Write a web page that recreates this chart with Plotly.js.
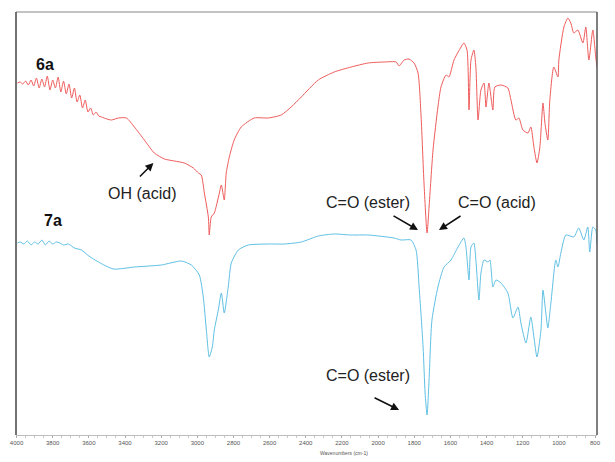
<!DOCTYPE html>
<html>
<head>
<meta charset="utf-8">
<script src="https://cdn.plot.ly/plotly-3.0.1.min.js"></script>
<style>html,body{margin:0;padding:0;background:#fff;}#chart{width:615px;height:462px;}</style>
</head>
<body>
<div id="chart"></div>
<script>
// Wavenumbers (cm-1) and relative transmittance (arbitrary units) for sample 6a
const wn6a = [3995,3980,3965,3950,3935,3920,3905,3890,3875,3860,3845,3830,3815,3800,3785,3770,3755,3740,3725,3710,3695,3680,3665,3650,3635,3620,3605,3590,3575,3560,3545,3530,3500,3475,3436,3392,3348,3293,3238,3182,3127,3072,3022,2994,2978,2961,2939,2934,2923,2906,2878,2867,2851,2840,2823,2796,2757,2685,2608,2536,2481,2425,2331,2243,2149,2055,1967,1900,1884,1856,1829,1801,1779,1762,1746,1729,1718,1696,1669,1652,1624,1608,1580,1541,1525,1508,1497,1486,1470,1459,1447,1431,1414,1403,1387,1365,1354,1320,1282,1265,1238,1221,1199,1171,1155,1138,1121,1105,1088,1077,1061,1050,1028,1005,1000,972,950,934,917,895,867,851,834,812,796,789];
const t6a = [352,353,351,354,350,355,349,357,347,356,348,359,345,355,347,358,343,354,341,351,337,347,333,340,327,335,323,327,320,323,319,318,316,315,317,317,308,295,282,276,274,272,267,262,260,242,218,200,218,222,242,250,235,262,278,295,308,317,317,320,328,338,355,363,368,372,373,373,369,375,376,372,362,318,252,202,228,285,328,348,360,358,375,388,392,385,325,375,385,368,315,345,352,328,352,325,348,350,347,335,315,317,305,302,308,288,272,288,332,312,295,335,368,358,375,408,417,412,402,405,392,408,375,405,378,368];

// Wavenumbers (cm-1) and relative transmittance (arbitrary units) for sample 7a
const wn7a = [3995,3980,3960,3940,3920,3900,3880,3860,3840,3820,3800,3780,3760,3740,3713,3680,3641,3600,3547,3464,3348,3199,3088,3033,2989,2967,2950,2934,2917,2906,2884,2867,2851,2829,2812,2773,2718,2608,2519,2425,2331,2243,2149,2055,1912,1873,1818,1790,1773,1751,1740,1729,1718,1702,1669,1635,1597,1558,1525,1514,1497,1486,1470,1459,1442,1431,1414,1392,1381,1365,1348,1320,1282,1254,1226,1210,1182,1155,1138,1121,1099,1088,1072,1061,1044,1017,1005,989,961,917,890,862,840,829,812,796,789];
const t7a = [192,193,191,194,190,193,191,195,190,194,191,193,192,190,191,187,185,179,173,166,168,170,174,170,160,138,105,78,88,105,125,142,122,148,172,185,190,191,191,193,199,201,200,200,197,195,195,185,148,88,42,20,55,115,148,168,175,188,197,188,155,188,192,175,135,162,175,173,175,148,155,152,142,117,128,112,92,118,98,78,105,145,122,107,132,175,168,182,200,198,207,195,208,183,208,205,190];

const sampleNames = ['6a', '7a'];
const xTicks = [4000,3800,3600,3400,3200,3000,2800,2600,2400,2200,2000,1800,1600,1400,1200,1000,800];

const traces = [
  {x: wn6a, y: t6a, type: 'scatter', mode: 'lines', name: sampleNames[0],
   line: {color: '#ef5b5b', width: 1, shape: 'spline', smoothing: 0.6}},
  {x: wn7a, y: t7a, type: 'scatter', mode: 'lines', name: sampleNames[1],
   line: {color: '#5fc0e4', width: 1, shape: 'spline', smoothing: 0.6}}
];

const txtFont = {family: 'Arial, "Liberation Sans", sans-serif', size: 16, color: '#222'};
const boldFont = {family: 'Arial, "Liberation Sans", sans-serif', size: 16, color: '#111', weight: 'bold'};

const layout = {
  width: 615, height: 462,
  margin: {l: 16, r: 18, t: 12, b: 27},
  paper_bgcolor: '#fff', plot_bgcolor: '#fff',
  showlegend: false,
  xaxis: {
    range: [4003, 789], autorange: false,
    tickvals: xTicks, ticktext: xTicks.map(String),
    showgrid: false, zeroline: false,
    showline: true, linecolor: '#bdbdbd', linewidth: 1,
    ticks: 'outside', ticklen: 2, tickcolor: '#aaa',
    minor: {dtick: 50, ticks: 'outside', ticklen: 2, tickcolor: '#c8c8c8'},
    tickfont: {family: 'Arial, "Liberation Sans", sans-serif', size: 6, color: '#555'}
  },
  yaxis: {
    range: [0, 423], autorange: false,
    showgrid: false, zeroline: false, showticklabels: false, ticks: ''
  },
  shapes: [
    {type: 'line', xref: 'paper', yref: 'paper', x0: 0, x1: 1, y0: 1, y1: 1, line: {color: '#888', width: 1}},
    {type: 'line', xref: 'paper', yref: 'paper', x0: 0, x1: 0, y0: 0, y1: 1, line: {color: '#444', width: 1.5}},
    {type: 'line', xref: 'paper', yref: 'paper', x0: 1, x1: 1, y0: 0, y1: 1, line: {color: '#555', width: 1.5}}
  ],
  annotations: [
    {x: 3840, y: 371, xref: 'x', yref: 'y', text: '<b>' + sampleNames[0] + '</b>', showarrow: false, font: boldFont},
    {x: 3801, y: 215, xref: 'x', yref: 'y', text: '<b>' + sampleNames[1] + '</b>', showarrow: false, font: boldFont},
    {x: 3304, y: 242, xref: 'x', yref: 'y', text: 'OH (acid)', showarrow: false, font: txtFont},
    {x: 3243, y: 272, xref: 'x', yref: 'y', ax: -15, ay: 15, text: '', showarrow: true,
     arrowhead: 2, arrowsize: 1, arrowwidth: 1.6, arrowcolor: '#111'},
    {x: 2055, y: 233, xref: 'x', yref: 'y', text: 'C=O (ester)', showarrow: false, font: txtFont},
    {x: 1779, y: 205, xref: 'x', yref: 'y', ax: -26, ay: -15, text: '', showarrow: true,
     arrowhead: 2, arrowsize: 1, arrowwidth: 1.6, arrowcolor: '#111'},
    {x: 1342, y: 233, xref: 'x', yref: 'y', text: 'C=O (acid)', showarrow: false, font: txtFont},
    {x: 1663, y: 205, xref: 'x', yref: 'y', ax: 23, ay: -15, text: '', showarrow: true,
     arrowhead: 2, arrowsize: 1, arrowwidth: 1.6, arrowcolor: '#111'},
    {x: 2055, y: 60, xref: 'x', yref: 'y', text: 'C=O (ester)', showarrow: false, font: txtFont},
    {x: 1884, y: 25, xref: 'x', yref: 'y', ax: -26, ay: -13, text: '', showarrow: true,
     arrowhead: 2, arrowsize: 1, arrowwidth: 1.6, arrowcolor: '#111'},
    {x: 0.5645, y: -0.0425, xref: 'paper', yref: 'paper', yanchor: 'middle', text: 'Wavenumbers (cm-1)', showarrow: false,
     font: {family: 'Arial, "Liberation Sans", sans-serif', size: 5, color: '#555'}}
  ]
};

Plotly.newPlot('chart', traces, layout, {displayModeBar: false, staticPlot: true});
</script>
</body>
</html>
